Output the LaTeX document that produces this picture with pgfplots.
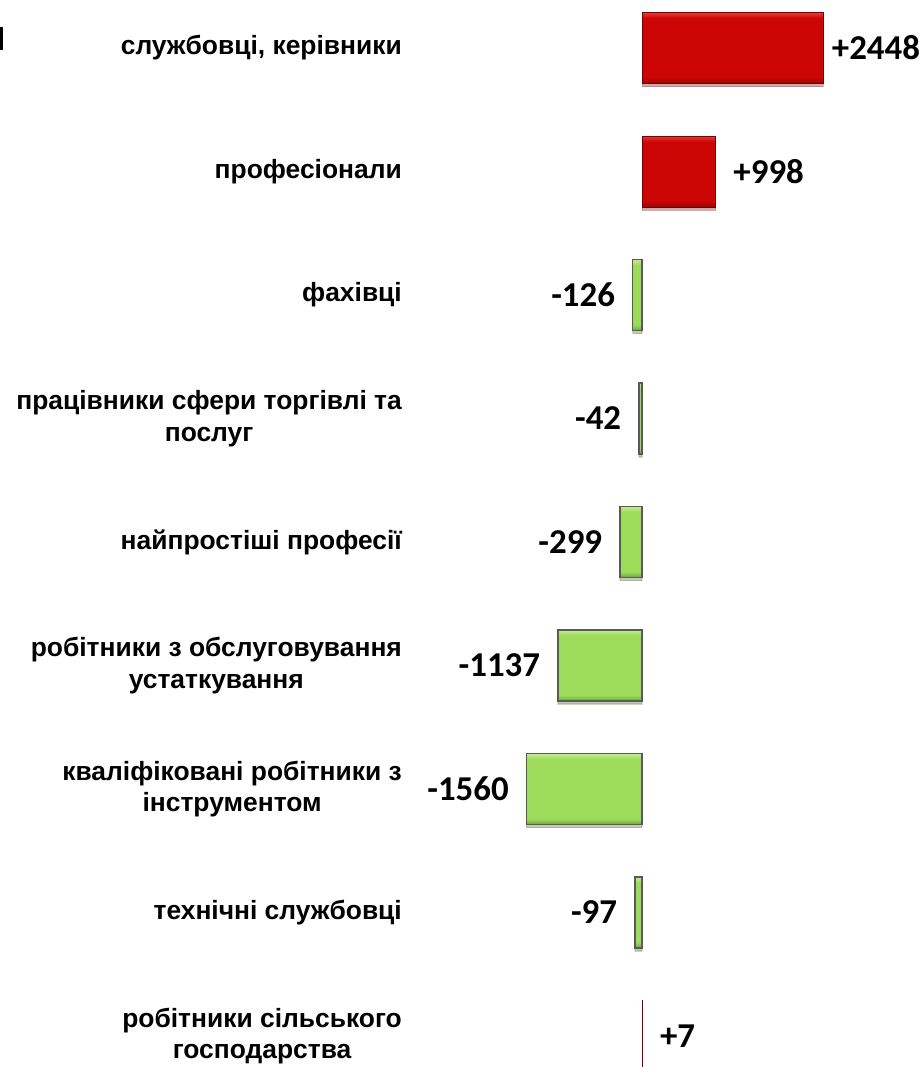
\documentclass[border=0pt]{standalone}
\usepackage{fontspec}
\setmainfont{Liberation Sans}
\newfontfamily\calib{Carlito}
\usepackage{pgfplots}
\pgfplotsset{compat=1.18}
\usetikzlibrary{shadows}
\definecolor{rlight}{HTML}{E83A3A}
\definecolor{rmid}{HTML}{CC0505}
\definecolor{rdark}{HTML}{8A0A0A}
\definecolor{rborder}{HTML}{7A0000}
\definecolor{glight}{HTML}{C2EC8C}
\definecolor{gmid}{HTML}{9DDB5B}
\definecolor{gdark}{HTML}{6EA537}
\definecolor{gborder}{HTML}{595959}
\pgfdeclareverticalshading{redbevel}{100bp}{color(0bp)=(rdark); color(25bp)=(rdark); color(29bp)=(rmid); color(71bp)=(rmid); color(75bp)=(rlight); color(100bp)=(rlight)}
\pgfdeclareverticalshading{greenbevel}{100bp}{color(0bp)=(gdark); color(25bp)=(gdark); color(29bp)=(gmid); color(71bp)=(gmid); color(75bp)=(glight); color(100bp)=(glight)}
\pgfplotsset{
  redbar/.style={shading=redbevel, draw=rborder, line width=1bp,
    drop shadow={shadow xshift=0bp, shadow yshift=-3bp, opacity=0.18, fill=black},
    every node near coord/.append style={anchor=west, xshift=#1}},
  greenbar/.style={shading=greenbevel, draw=gborder, line width=1.5bp,
    drop shadow={shadow xshift=0bp, shadow yshift=-3bp, opacity=0.18, fill=black},
    every node near coord/.append style={anchor=east, xshift=-17bp}},
}
\begin{document}
\begin{tikzpicture}
\useasboundingbox (0,0) rectangle (920bp,1067bp);
\fill[black] (0,1017bp) rectangle (2.5bp,1040bp);
\begin{axis}[
  at={(410bp,1080.75bp)}, anchor=north west,
  x=0.074074bp, y=123.5bp,
  xmin=-3132, xmax=3753, ymin=-0.5, ymax=8.5, y dir=reverse,
  axis line style={draw=none}, major tick length=0pt,
  xtick=\empty, ytick={0,...,8},
  yticklabels={{службовці, керівники},{професіонали},{фахівці},{працівники сфери торгівлі та\\послуг},{найпростіші професії},{робітники з обслуговування\\устаткування},{кваліфіковані робітники з\\інструментом},{технічні службовці},{робітники сільського\\господарства}},
  yticklabel style={align=center, font=\fontsize{26.5}{32}\selectfont\bfseries, inner sep=0pt, xshift=-8bp},
  clip=false,
  xbar, bar width=71bp, bar shift=0pt,
  point meta=explicit symbolic,
  nodes near coords,
  every node near coord/.append style={font=\fontsize{35}{35}\selectfont\calib\bfseries, inner sep=0pt, text=black},
]
\addplot[redbar=8bp] coordinates {(2448,0) [+2448]};
\addplot[redbar=17bp] coordinates {(998,1) [+998]};
\addplot[greenbar] coordinates {(-126,2) [-126]};
\addplot[greenbar] coordinates {(-42,3) [-42]};
\addplot[greenbar] coordinates {(-299,4) [-299]};
\addplot[greenbar] coordinates {(-1137,5) [-1137]};
\addplot[greenbar] coordinates {(-1560,6) [-1560]};
\addplot[greenbar] coordinates {(-97,7) [-97]};
\addplot[redbar=17bp] coordinates {(7,8) [+7]};
\end{axis}
\end{tikzpicture}
\end{document}
